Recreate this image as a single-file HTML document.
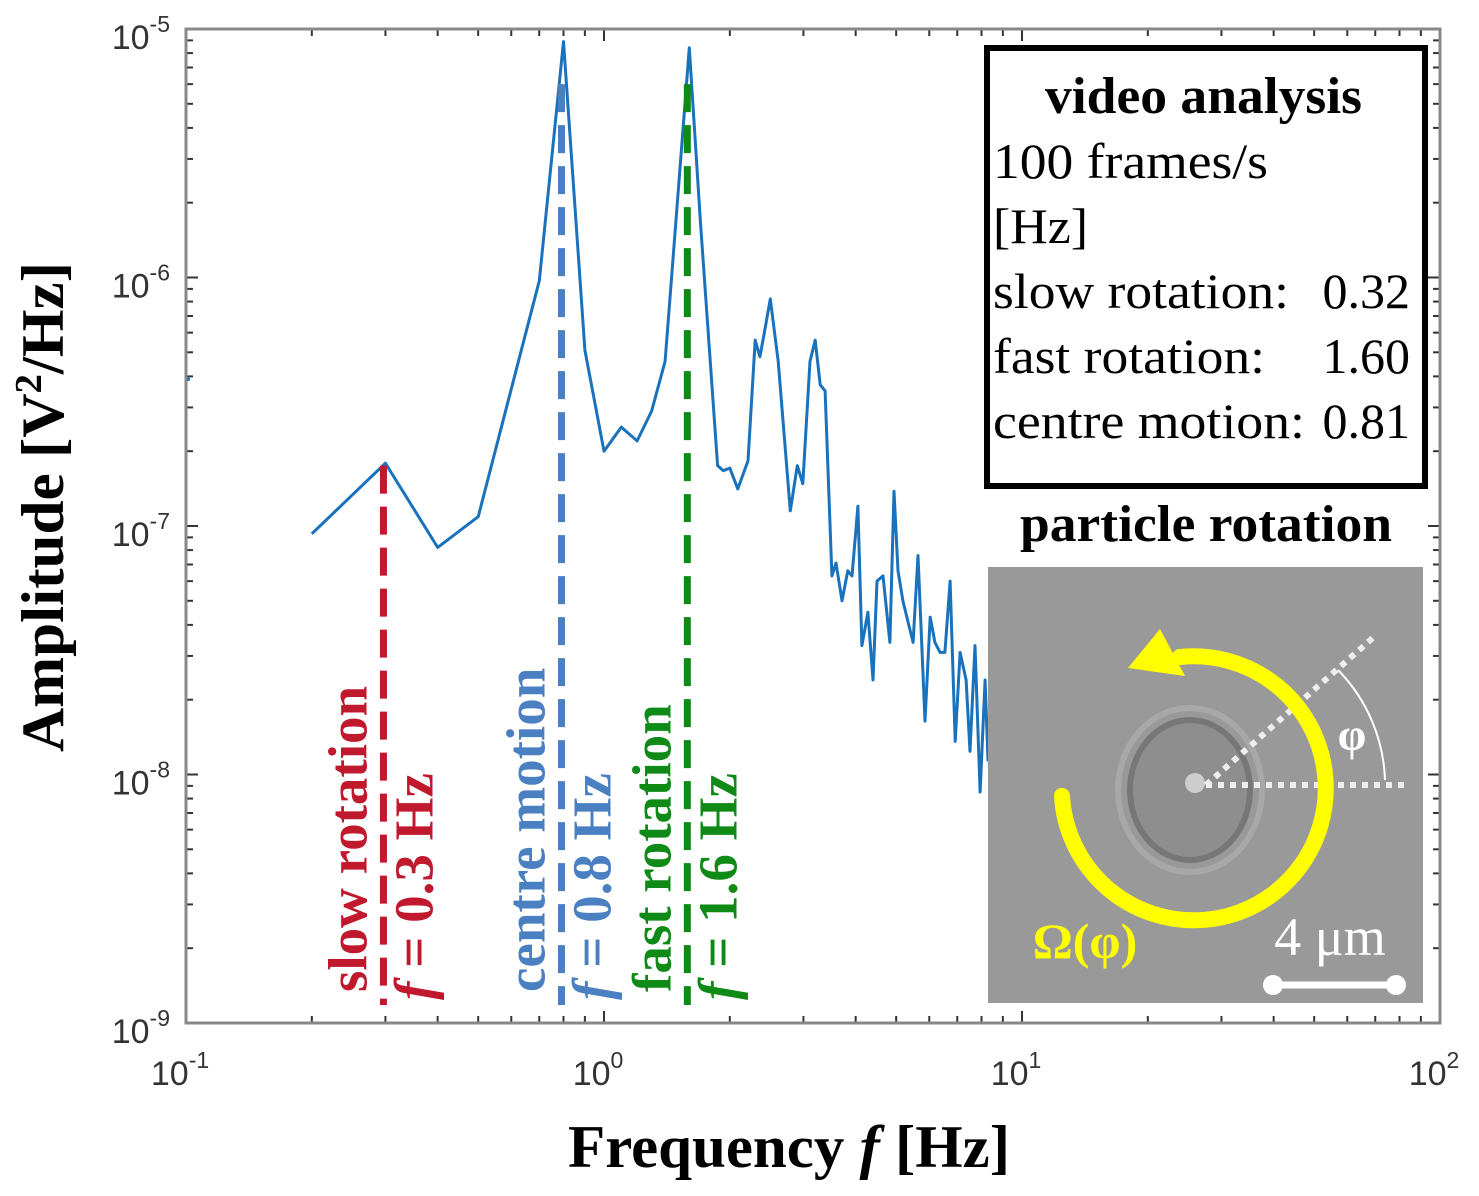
<!DOCTYPE html>
<html><head><meta charset="utf-8"><style>
html,body{margin:0;padding:0;background:#fff}
svg{display:block}
</style></head><body>
<svg id="chart" width="1479" height="1196" viewBox="0 0 1479 1196" xmlns="http://www.w3.org/2000/svg">
<rect x="0" y="0" width="1479" height="1196" fill="#fff"/>
<g id="ticks"></g>
<g id="ticklabels" font-family="Liberation Sans, sans-serif" font-size="34" fill="#333"></g>
<path id="series" fill="none" stroke="#1a72bd" stroke-width="3" stroke-linejoin="round"/>
<circle id="dot" r="2" fill="#1a72bd"/>
<g id="marks"></g>
<rect x="186" y="29" width="1254" height="994" fill="none" stroke="#888" stroke-width="3"/>
<text transform="translate(63,507) rotate(-90)" text-anchor="middle" font-family="Liberation Serif, serif" font-weight="bold" font-size="60" textLength="490" lengthAdjust="spacingAndGlyphs">Amplitude [V<tspan font-size="38" dy="-22">2</tspan><tspan dy="22">/Hz]</tspan></text>
<text x="789" y="1167" text-anchor="middle" font-family="Liberation Serif, serif" font-weight="bold" font-size="60" textLength="442" lengthAdjust="spacingAndGlyphs">Frequency <tspan font-style="italic">f</tspan> [Hz]</text>
<g font-family="Liberation Serif, serif" font-size="50">
<rect x="987" y="48" width="438" height="438" fill="#fff" stroke="#000" stroke-width="6"/>
<text x="1045" y="113" font-weight="bold" font-size="52" textLength="317" lengthAdjust="spacingAndGlyphs">video analysis</text>
<text x="993" y="178" textLength="275" lengthAdjust="spacingAndGlyphs">100 frames/s</text>
<text x="993" y="243" textLength="95" lengthAdjust="spacingAndGlyphs">[Hz]</text>
<text x="993" y="308" textLength="296" lengthAdjust="spacingAndGlyphs">slow rotation:</text><text x="1410" y="308" text-anchor="end">0.32</text>
<text x="993" y="373" textLength="272" lengthAdjust="spacingAndGlyphs">fast rotation:</text><text x="1410" y="373" text-anchor="end">1.60</text>
<text x="993" y="438" textLength="312" lengthAdjust="spacingAndGlyphs">centre motion:</text><text x="1410" y="438" text-anchor="end">0.81</text>
</g>
<text x="1020" y="541" font-family="Liberation Serif, serif" font-weight="bold" font-size="52" textLength="372" lengthAdjust="spacingAndGlyphs">particle rotation</text>
<g>
<rect x="988" y="567" width="435" height="436" fill="#999"/>
<ellipse cx="1190" cy="790" rx="60" ry="70" fill="#8e8e8e" stroke="#777" stroke-width="6"/>
<ellipse cx="1190" cy="790" rx="72" ry="82" fill="none" stroke="#a8a8a8" stroke-width="6"/>
<circle cx="1195" cy="783" r="10" fill="#ddd" opacity="0.8"/>
<path d="M1206 785 L1375 636" stroke="#eee" stroke-width="6" stroke-dasharray="6 6"/>
<path d="M1206 785 L1405 785" stroke="#eee" stroke-width="6" stroke-dasharray="6 6"/>
<path d="M1338 670 A165 165 0 0 1 1385 780" fill="none" stroke="#fff" stroke-width="2"/>
<text x="1352" y="750" text-anchor="middle" fill="#fff" font-family="Liberation Serif, serif" font-weight="bold" font-size="46">φ</text>
<path d="M1062 796 A132 132 0 1 0 1180 657" fill="none" stroke="#ff0" stroke-width="16" stroke-linecap="round"/>
<polygon points="1128,668 1160,629 1185,676" fill="#ff0"/>
<text x="1085" y="958" text-anchor="middle" fill="#ff0" font-family="Liberation Serif, serif" font-weight="bold" font-size="50">Ω(φ)</text>
<text x="1330" y="955" text-anchor="middle" fill="#fff" font-family="Liberation Serif, serif" font-size="54">4 μm</text>
<line x1="1273" y1="985" x2="1396" y2="985" stroke="#fff" stroke-width="7"/>
<circle cx="1273" cy="985" r="10" fill="#fff"/><circle cx="1396" cy="985" r="10" fill="#fff"/>
</g>
</svg>
<script>
const freqs = [0.2,0.3,0.4,0.5,0.7,0.8,0.9,1.0,1.1,1.2,1.3,1.4,1.6,1.7,1.87,1.93,2.0,2.09,2.21,2.30,2.36,2.41,2.50,2.61,2.79,2.90,2.99,3.11,3.20,3.29,3.38,3.51,3.59,3.71,3.83,3.92,4.05,4.14,4.28,4.40,4.50,4.65,4.83,4.94,5.05,5.19,5.34,5.49,5.64,5.86,6.03,6.19,6.37,6.54,6.73,6.92,7.11,7.35,7.51,7.72,7.94,8.16,8.29];
const amps = [9.3e-8,1.79e-7,8.2e-8,1.09e-7,9.7e-7,8.9e-6,5.1e-7,2.0e-7,2.5e-7,2.2e-7,2.9e-7,4.6e-7,8.4e-6,1.7e-6,1.75e-7,1.67e-7,1.71e-7,1.41e-7,1.83e-7,5.6e-7,4.8e-7,5.8e-7,8.2e-7,4.6e-7,1.15e-7,1.75e-7,1.48e-7,4.6e-7,5.6e-7,3.7e-7,3.5e-7,6.3e-8,7.1e-8,5.0e-8,6.6e-8,6.3e-8,1.2e-7,3.3e-8,4.5e-8,2.4e-8,6.0e-8,6.3e-8,3.4e-8,1.38e-7,6.6e-8,5.0e-8,4.1e-8,3.4e-8,7.6e-8,1.64e-8,4.3e-8,3.4e-8,3.1e-8,3.1e-8,6.0e-8,1.36e-8,3.1e-8,2.4e-8,1.24e-8,3.3e-8,8.5e-9,2.4e-8,1.13e-8];
const firstFreq = [0.1];
const firstAmp = [3.9e-7];
const markerFreqs = [0.3,0.8,1.6];
const markerTops = [1.75e-7,6e-6,6e-6];
const markerColors = ['#c0182c','#4a7fc1','#0f8a16'];
const markerNames = ['slow rotation','centre motion','fast rotation'];
const markerValues = ['0.3','0.8','1.6'];
const xTickExps = [-1,0,1,2];
const yTickExps = [-5,-6,-7,-8,-9];

const L=186,R=1440,T=29,B=1023;
const X=f=>L+(Math.log10(f)+1)/3*(R-L);
const Y=a=>T+(-5-Math.log10(a))/4*(B-T);
const NS='http://www.w3.org/2000/svg';
function mk(tag,attrs,parent){const e=document.createElementNS(NS,tag);for(const k in attrs)e.setAttribute(k,attrs[k]);parent.appendChild(e);return e;}

let d='';
freqs.forEach((f,i)=>{d+=(i?'L':'M')+X(f).toFixed(1)+' '+Y(amps[i]).toFixed(1);});
document.getElementById('series').setAttribute('d',d);
const dot=document.getElementById('dot');
dot.setAttribute('cx',X(firstFreq[0])+2);dot.setAttribute('cy',Y(firstAmp[0]));

const tg=document.getElementById('ticks');
for(let e=-1;e<2;e++)for(let m=1;m<10;m++){
  const x=X(m*Math.pow(10,e));const len=m===1?12:7;
  const t1=mk('line',{x1:x,x2:x,y1:B,y2:B-len,stroke:'#333','stroke-width':2},tg);
  
  
  const t2=mk('line',{x1:x,x2:x,y1:T,y2:T+len,stroke:'#333','stroke-width':2},tg);
  
  
}
for(let e=-9;e<-5;e++)for(let m=1;m<10;m++){
  const y=Y(m*Math.pow(10,e));const len=m===1?12:7;
  const t1=mk('line',{x1:L,x2:L+len,y1:y,y2:y,stroke:'#333','stroke-width':2},tg);
  
  
  const t2=mk('line',{x1:R,x2:R-len,y1:y,y2:y,stroke:'#333','stroke-width':2},tg);
  
  
}
const lg=document.getElementById('ticklabels');
xTickExps.forEach(e=>{
  const t=mk('text',{x:X(Math.pow(10,e))-6,y:1085,'text-anchor':'middle'},lg);
  
  
  t.innerHTML='10<tspan font-size="23" dy="-17">'+e+'</tspan>';
});
yTickExps.forEach(e=>{
  const t=mk('text',{x:170,y:Y(Math.pow(10,e))+20,'text-anchor':'end'},lg);
  
  
  t.innerHTML='10<tspan font-size="23" dy="-17">'+e+'</tspan>';
});

const mg=document.getElementById('marks');
markerFreqs.forEach((f,i)=>{
  const x=X(f)-2;
  const ln=mk('line',{x1:x,x2:x,y1:Y(markerTops[i]),y2:1005,stroke:markerColors[i],'stroke-width':7,'stroke-dasharray':'28 13'},mg);
  
  
  const t1=mk('text',{transform:'translate('+(x-17)+',992) rotate(-90)',fill:markerColors[i],'font-family':'Liberation Serif, serif','font-weight':'bold','font-size':'55'},mg);
  
  
  t1.textContent=markerNames[i];
  const t2=mk('text',{transform:'translate('+(x+49)+',1000) rotate(-90)',fill:markerColors[i],'font-family':'Liberation Serif, serif','font-weight':'bold','font-size':'55'},mg);
  
  
  t2.innerHTML='<tspan font-style="italic">f</tspan> = '+markerValues[i]+' Hz';
});
</script>
</body></html>
